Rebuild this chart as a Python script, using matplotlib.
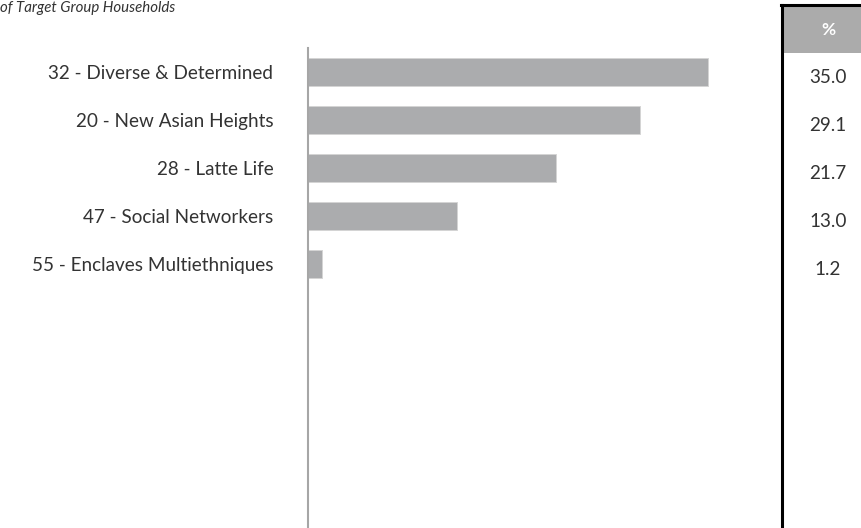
import matplotlib
matplotlib.use("Agg")
import matplotlib.pyplot as plt
from matplotlib.transforms import blended_transform_factory
from matplotlib.patches import Rectangle
from matplotlib.lines import Line2D

categories = ["32 - Diverse & Determined", "20 - New Asian Heights", "28 - Latte Life",
              "47 - Social Networkers", "55 - Enclaves Multiethniques"]
values = [35.0, 29.1, 21.7, 13.0, 1.2]
value_labels = ["35.0", "29.1", "21.7", "13.0", "1.2"]
title = "of Target Group Households"
header = "%"

W, H = 862, 528
fig = plt.figure(figsize=(W / 100, H / 100), dpi=100)
plt.rcParams['font.family'] = ['Lato', 'DejaVu Sans']

ax_left, ax_right = 308, 765
ax_top, ax_bottom = 48, 528
ax = fig.add_axes([ax_left / W, 1 - ax_bottom / H, (ax_right - ax_left) / W, (ax_bottom - ax_top) / H])
n_slots = 10
ypos = list(range(len(values)))
ax.barh(ypos, values, height=0.59, color='#ABACAE', edgecolor='#D4D4D4', linewidth=0.7)
ax.set_xlim(0, 40)
ax.set_ylim(n_slots - 0.5, -0.5)
for s in ['top', 'right', 'bottom']:
    ax.spines[s].set_visible(False)
ax.spines['left'].set_color('#A6A6A6')
ax.spines['left'].set_linewidth(1.5)
ax.set_xticks([])
ax.set_yticks(ypos)
ax.set_yticklabels(categories, fontsize=13.6, color='#333333')
ax.tick_params(axis='y', length=0, pad=25)

# title
fig.text(0, 1 - 8 / H, title, ha='left', va='center', fontsize=10.8, style='italic', color='#333333')

# table
fig.add_artist(Rectangle((784 / W, 1 - 53 / H), (W - 784) / W, 47 / H, transform=fig.transFigure,
                         facecolor='#ABABAB', edgecolor='none'))
fig.add_artist(Line2D([782 / W, 782 / W], [0, 1 - 5 / H], transform=fig.transFigure, color='black', linewidth=2.2))
fig.add_artist(Line2D([781 / W, 1], [1 - 5 / H, 1 - 5 / H], transform=fig.transFigure, color='black', linewidth=2.2))
fig.text(828 / W, 1 - 30 / H, header, ha='center', va='center', fontsize=12.5, fontweight='bold', color='white')
tr = blended_transform_factory(fig.transFigure, ax.transData)
for i, lab in enumerate(value_labels):
    ax.text(828 / W, i + 0.12, lab, transform=tr, ha='center', va='center', fontsize=13.6, color='#333333')

fig.savefig("out.png", dpi=100)
